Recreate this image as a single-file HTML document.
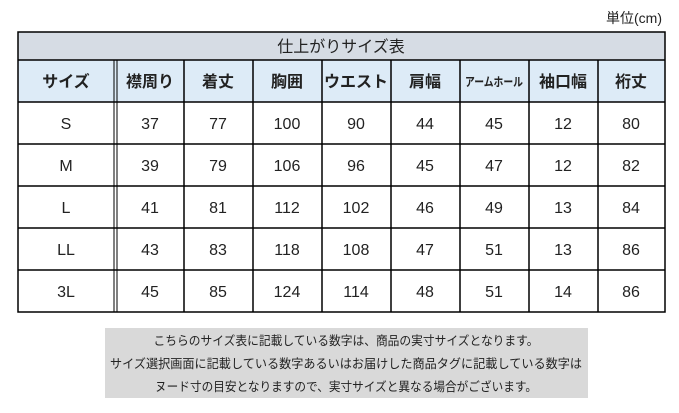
<!DOCTYPE html>
<html><head><meta charset="utf-8"><style>
html,body{margin:0;padding:0;background:#fff;width:679px;height:413px;overflow:hidden}
svg{display:block}
text{font-family:"Liberation Sans","Noto Sans CJK JP",sans-serif;fill:#222}
.h{font-weight:bold;font-size:16px}
.d{font-size:16px}
.n{font-size:12.5px}
</style></head><body>
<svg width="679" height="413" viewBox="0 0 679 413">
<text x="662" y="23" text-anchor="end" font-size="14">単位(cm)</text>
<rect x="18" y="32" width="647" height="28" fill="#d6dce4"/>
<rect x="18" y="60" width="647" height="42" fill="#ddebf7"/>
<text x="341" y="52" text-anchor="middle" font-size="16" fill="#444">仕上がりサイズ表</text>
<g stroke="#000" stroke-width="1.5" fill="none">
<rect x="18" y="32" width="647" height="280"/>
<line x1="18" y1="60" x2="665" y2="60"/>
<line x1="18" y1="102" x2="665" y2="102"/>
<line x1="18" y1="144" x2="665" y2="144"/>
<line x1="18" y1="186" x2="665" y2="186"/>
<line x1="18" y1="228" x2="665" y2="228"/>
<line x1="18" y1="270" x2="665" y2="270"/>
<line x1="114" y1="60" x2="114" y2="312" stroke-width="1"/>
<line x1="117" y1="60" x2="117" y2="312" stroke-width="1"/>
<line x1="184" y1="60" x2="184" y2="312"/>
<line x1="253" y1="60" x2="253" y2="312"/>
<line x1="322" y1="60" x2="322" y2="312"/>
<line x1="391" y1="60" x2="391" y2="312"/>
<line x1="460" y1="60" x2="460" y2="312"/>
<line x1="529" y1="60" x2="529" y2="312"/>
<line x1="598" y1="60" x2="598" y2="312"/>
</g>
<g class="h" text-anchor="middle">
<text x="66" y="87">サイズ</text>
<text x="150" y="87">襟周り</text>
<text x="218" y="87">着丈</text>
<text x="287" y="87">胸囲</text>
<text x="356" y="87">ウエスト</text>
<text x="425" y="87">肩幅</text>
<text x="494" y="86" font-size="12" textLength="58" lengthAdjust="spacingAndGlyphs">アームホール</text>
<text x="563" y="87">袖口幅</text>
<text x="631" y="87">裄丈</text>
</g>
<g class="d" text-anchor="middle">
<text x="66" y="129">S</text><text x="150" y="129">37</text><text x="218" y="129">77</text><text x="287" y="129">100</text><text x="356" y="129">90</text><text x="425" y="129">44</text><text x="494" y="129">45</text><text x="563" y="129">12</text><text x="631" y="129">80</text>
<text x="66" y="171">M</text><text x="150" y="171">39</text><text x="218" y="171">79</text><text x="287" y="171">106</text><text x="356" y="171">96</text><text x="425" y="171">45</text><text x="494" y="171">47</text><text x="563" y="171">12</text><text x="631" y="171">82</text>
<text x="66" y="213">L</text><text x="150" y="213">41</text><text x="218" y="213">81</text><text x="287" y="213">112</text><text x="356" y="213">102</text><text x="425" y="213">46</text><text x="494" y="213">49</text><text x="563" y="213">13</text><text x="631" y="213">84</text>
<text x="66" y="255">LL</text><text x="150" y="255">43</text><text x="218" y="255">83</text><text x="287" y="255">118</text><text x="356" y="255">108</text><text x="425" y="255">47</text><text x="494" y="255">51</text><text x="563" y="255">13</text><text x="631" y="255">86</text>
<text x="66" y="297">3L</text><text x="150" y="297">45</text><text x="218" y="297">85</text><text x="287" y="297">124</text><text x="356" y="297">114</text><text x="425" y="297">48</text><text x="494" y="297">51</text><text x="563" y="297">14</text><text x="631" y="297">86</text>
</g>
<rect x="105" y="328" width="483" height="70" fill="#d9d9d9"/>
<g class="n" text-anchor="middle">
<text x="346" y="345" textLength="385" lengthAdjust="spacingAndGlyphs">こちらのサイズ表に記載している数字は、商品の実寸サイズとなります。</text>
<text x="346" y="368" textLength="472" lengthAdjust="spacingAndGlyphs">サイズ選択画面に記載している数字あるいはお届けした商品タグに記載している数字は</text>
<text x="346" y="391" textLength="382" lengthAdjust="spacingAndGlyphs">ヌード寸の目安となりますので、実寸サイズと異なる場合がございます。</text>
</g>
</svg>
</body></html>
